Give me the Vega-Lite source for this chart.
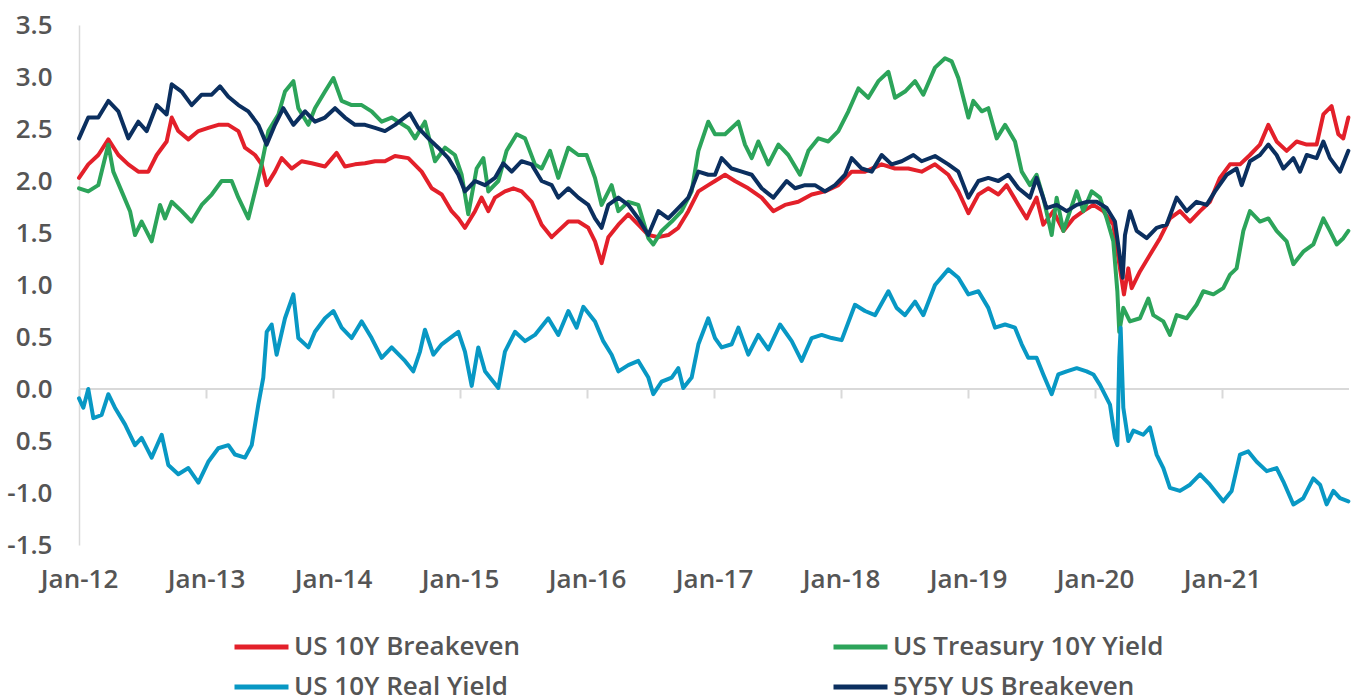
{
"$schema": "https://vega.github.io/schema/vega-lite/v6.json",
"width": 1270,
"height": 520,
"autosize": "none",
"padding": {"left": 79, "top": 25, "right": 10, "bottom": 155},
"background": "white",
"config": {"view": {"stroke": null}, "font": "Open Sans"},
"datasets": {
"names": [
{"k": "be", "name": "US 10Y Breakeven"},
{"k": "ty", "name": "US Treasury 10Y Yield"},
{"k": "fy", "name": "5Y5Y US Breakeven"},
{"k": "ry", "name": "US 10Y Real Yield"}
],
"pts": [
{"k":"be","t":2012.000,"v":2.03},{"k":"be","t":2012.073,"v":2.16},{"k":"be","t":2012.152,"v":2.25},{"k":"be","t":2012.231,"v":2.40},{"k":"be","t":2012.310,"v":2.25},{"k":"be","t":2012.388,"v":2.16},{"k":"be","t":2012.467,"v":2.09},{"k":"be","t":2012.546,"v":2.09},{"k":"be","t":2012.612,"v":2.25},{"k":"be","t":2012.690,"v":2.38},{"k":"be","t":2012.730,"v":2.61},{"k":"be","t":2012.782,"v":2.48},{"k":"be","t":2012.861,"v":2.40},{"k":"be","t":2012.940,"v":2.48},{"k":"be","t":2013.018,"v":2.51},{"k":"be","t":2013.097,"v":2.54},{"k":"be","t":2013.176,"v":2.54},{"k":"be","t":2013.255,"v":2.48},{"k":"be","t":2013.307,"v":2.32},{"k":"be","t":2013.386,"v":2.25},{"k":"be","t":2013.438,"v":2.16},{"k":"be","t":2013.478,"v":1.96},{"k":"be","t":2013.543,"v":2.09},{"k":"be","t":2013.596,"v":2.22},{"k":"be","t":2013.675,"v":2.12},{"k":"be","t":2013.753,"v":2.19},{"k":"be","t":2013.832,"v":2.17},{"k":"be","t":2013.937,"v":2.14},{"k":"be","t":2014.029,"v":2.27},{"k":"be","t":2014.094,"v":2.14},{"k":"be","t":2014.173,"v":2.16},{"k":"be","t":2014.252,"v":2.17},{"k":"be","t":2014.331,"v":2.19},{"k":"be","t":2014.409,"v":2.19},{"k":"be","t":2014.488,"v":2.24},{"k":"be","t":2014.593,"v":2.22},{"k":"be","t":2014.698,"v":2.09},{"k":"be","t":2014.777,"v":1.93},{"k":"be","t":2014.856,"v":1.87},{"k":"be","t":2014.934,"v":1.71},{"k":"be","t":2014.987,"v":1.64},{"k":"be","t":2015.039,"v":1.55},{"k":"be","t":2015.118,"v":1.71},{"k":"be","t":2015.170,"v":1.84},{"k":"be","t":2015.223,"v":1.71},{"k":"be","t":2015.275,"v":1.84},{"k":"be","t":2015.354,"v":1.90},{"k":"be","t":2015.420,"v":1.93},{"k":"be","t":2015.485,"v":1.90},{"k":"be","t":2015.564,"v":1.80},{"k":"be","t":2015.643,"v":1.58},{"k":"be","t":2015.722,"v":1.46},{"k":"be","t":2015.774,"v":1.52},{"k":"be","t":2015.853,"v":1.61},{"k":"be","t":2015.932,"v":1.61},{"k":"be","t":2016.010,"v":1.55},{"k":"be","t":2016.063,"v":1.42},{"k":"be","t":2016.115,"v":1.21},{"k":"be","t":2016.168,"v":1.46},{"k":"be","t":2016.247,"v":1.58},{"k":"be","t":2016.325,"v":1.68},{"k":"be","t":2016.404,"v":1.58},{"k":"be","t":2016.483,"v":1.48},{"k":"be","t":2016.562,"v":1.46},{"k":"be","t":2016.640,"v":1.48},{"k":"be","t":2016.719,"v":1.55},{"k":"be","t":2016.798,"v":1.71},{"k":"be","t":2016.877,"v":1.90},{"k":"be","t":2016.955,"v":1.96},{"k":"be","t":2017.008,"v":2.00},{"k":"be","t":2017.087,"v":2.06},{"k":"be","t":2017.165,"v":2.00},{"k":"be","t":2017.270,"v":1.93},{"k":"be","t":2017.375,"v":1.84},{"k":"be","t":2017.467,"v":1.71},{"k":"be","t":2017.559,"v":1.77},{"k":"be","t":2017.664,"v":1.80},{"k":"be","t":2017.769,"v":1.87},{"k":"be","t":2017.874,"v":1.90},{"k":"be","t":2017.979,"v":1.96},{"k":"be","t":2018.084,"v":2.09},{"k":"be","t":2018.189,"v":2.09},{"k":"be","t":2018.320,"v":2.16},{"k":"be","t":2018.425,"v":2.12},{"k":"be","t":2018.530,"v":2.12},{"k":"be","t":2018.635,"v":2.09},{"k":"be","t":2018.740,"v":2.16},{"k":"be","t":2018.845,"v":2.06},{"k":"be","t":2018.924,"v":1.90},{"k":"be","t":2019.003,"v":1.69},{"k":"be","t":2019.082,"v":1.87},{"k":"be","t":2019.160,"v":1.93},{"k":"be","t":2019.239,"v":1.87},{"k":"be","t":2019.305,"v":1.96},{"k":"be","t":2019.397,"v":1.77},{"k":"be","t":2019.462,"v":1.64},{"k":"be","t":2019.488,"v":1.71},{"k":"be","t":2019.540,"v":1.84},{"k":"be","t":2019.593,"v":1.58},{"k":"be","t":2019.672,"v":1.71},{"k":"be","t":2019.751,"v":1.52},{"k":"be","t":2019.829,"v":1.64},{"k":"be","t":2019.908,"v":1.71},{"k":"be","t":2019.987,"v":1.77},{"k":"be","t":2020.065,"v":1.71},{"k":"be","t":2020.144,"v":1.58},{"k":"be","t":2020.184,"v":1.26},{"k":"be","t":2020.228,"v":0.91},{"k":"be","t":2020.262,"v":1.16},{"k":"be","t":2020.289,"v":0.97},{"k":"be","t":2020.354,"v":1.13},{"k":"be","t":2020.433,"v":1.29},{"k":"be","t":2020.512,"v":1.45},{"k":"be","t":2020.590,"v":1.64},{"k":"be","t":2020.669,"v":1.71},{"k":"be","t":2020.748,"v":1.61},{"k":"be","t":2020.827,"v":1.71},{"k":"be","t":2020.905,"v":1.80},{"k":"be","t":2020.984,"v":2.03},{"k":"be","t":2021.063,"v":2.16},{"k":"be","t":2021.142,"v":2.16},{"k":"be","t":2021.220,"v":2.25},{"k":"be","t":2021.299,"v":2.35},{"k":"be","t":2021.365,"v":2.54},{"k":"be","t":2021.430,"v":2.38},{"k":"be","t":2021.509,"v":2.29},{"k":"be","t":2021.588,"v":2.38},{"k":"be","t":2021.667,"v":2.35},{"k":"be","t":2021.745,"v":2.35},{"k":"be","t":2021.798,"v":2.64},{"k":"be","t":2021.863,"v":2.72},{"k":"be","t":2021.916,"v":2.45},{"k":"be","t":2021.955,"v":2.41},{"k":"be","t":2021.995,"v":2.61},

{"k":"ty","t":2012.000,"v":1.93},{"k":"ty","t":2012.073,"v":1.90},{"k":"ty","t":2012.152,"v":1.96},{"k":"ty","t":2012.231,"v":2.35},{"k":"ty","t":2012.270,"v":2.09},{"k":"ty","t":2012.336,"v":1.90},{"k":"ty","t":2012.402,"v":1.71},{"k":"ty","t":2012.441,"v":1.48},{"k":"ty","t":2012.493,"v":1.61},{"k":"ty","t":2012.572,"v":1.42},{"k":"ty","t":2012.638,"v":1.77},{"k":"ty","t":2012.677,"v":1.64},{"k":"ty","t":2012.730,"v":1.80},{"k":"ty","t":2012.808,"v":1.71},{"k":"ty","t":2012.887,"v":1.61},{"k":"ty","t":2012.966,"v":1.77},{"k":"ty","t":2013.045,"v":1.87},{"k":"ty","t":2013.123,"v":2.00},{"k":"ty","t":2013.202,"v":2.00},{"k":"ty","t":2013.255,"v":1.84},{"k":"ty","t":2013.333,"v":1.64},{"k":"ty","t":2013.386,"v":1.90},{"k":"ty","t":2013.438,"v":2.16},{"k":"ty","t":2013.491,"v":2.48},{"k":"ty","t":2013.570,"v":2.64},{"k":"ty","t":2013.622,"v":2.86},{"k":"ty","t":2013.688,"v":2.96},{"k":"ty","t":2013.727,"v":2.70},{"k":"ty","t":2013.806,"v":2.54},{"k":"ty","t":2013.858,"v":2.70},{"k":"ty","t":2013.937,"v":2.86},{"k":"ty","t":2014.003,"v":2.99},{"k":"ty","t":2014.068,"v":2.77},{"k":"ty","t":2014.147,"v":2.73},{"k":"ty","t":2014.226,"v":2.73},{"k":"ty","t":2014.304,"v":2.67},{"k":"ty","t":2014.383,"v":2.57},{"k":"ty","t":2014.462,"v":2.61},{"k":"ty","t":2014.593,"v":2.51},{"k":"ty","t":2014.646,"v":2.41},{"k":"ty","t":2014.724,"v":2.57},{"k":"ty","t":2014.803,"v":2.19},{"k":"ty","t":2014.882,"v":2.32},{"k":"ty","t":2014.960,"v":2.25},{"k":"ty","t":2015.013,"v":2.06},{"k":"ty","t":2015.065,"v":1.68},{"k":"ty","t":2015.131,"v":2.12},{"k":"ty","t":2015.184,"v":2.22},{"k":"ty","t":2015.223,"v":1.90},{"k":"ty","t":2015.302,"v":2.00},{"k":"ty","t":2015.367,"v":2.29},{"k":"ty","t":2015.446,"v":2.45},{"k":"ty","t":2015.512,"v":2.41},{"k":"ty","t":2015.590,"v":2.16},{"k":"ty","t":2015.643,"v":2.12},{"k":"ty","t":2015.709,"v":2.29},{"k":"ty","t":2015.774,"v":2.03},{"k":"ty","t":2015.853,"v":2.32},{"k":"ty","t":2015.932,"v":2.25},{"k":"ty","t":2015.997,"v":2.25},{"k":"ty","t":2016.063,"v":2.03},{"k":"ty","t":2016.115,"v":1.77},{"k":"ty","t":2016.194,"v":1.96},{"k":"ty","t":2016.247,"v":1.71},{"k":"ty","t":2016.325,"v":1.80},{"k":"ty","t":2016.404,"v":1.77},{"k":"ty","t":2016.483,"v":1.45},{"k":"ty","t":2016.522,"v":1.39},{"k":"ty","t":2016.588,"v":1.52},{"k":"ty","t":2016.667,"v":1.61},{"k":"ty","t":2016.745,"v":1.71},{"k":"ty","t":2016.824,"v":1.90},{"k":"ty","t":2016.877,"v":2.29},{"k":"ty","t":2016.955,"v":2.57},{"k":"ty","t":2017.008,"v":2.45},{"k":"ty","t":2017.087,"v":2.45},{"k":"ty","t":2017.192,"v":2.57},{"k":"ty","t":2017.244,"v":2.35},{"k":"ty","t":2017.297,"v":2.22},{"k":"ty","t":2017.349,"v":2.38},{"k":"ty","t":2017.428,"v":2.16},{"k":"ty","t":2017.507,"v":2.35},{"k":"ty","t":2017.585,"v":2.25},{"k":"ty","t":2017.677,"v":2.06},{"k":"ty","t":2017.743,"v":2.29},{"k":"ty","t":2017.822,"v":2.41},{"k":"ty","t":2017.900,"v":2.38},{"k":"ty","t":2017.979,"v":2.48},{"k":"ty","t":2018.058,"v":2.67},{"k":"ty","t":2018.137,"v":2.89},{"k":"ty","t":2018.215,"v":2.80},{"k":"ty","t":2018.294,"v":2.96},{"k":"ty","t":2018.373,"v":3.05},{"k":"ty","t":2018.425,"v":2.80},{"k":"ty","t":2018.504,"v":2.86},{"k":"ty","t":2018.583,"v":2.96},{"k":"ty","t":2018.648,"v":2.83},{"k":"ty","t":2018.740,"v":3.09},{"k":"ty","t":2018.819,"v":3.18},{"k":"ty","t":2018.872,"v":3.15},{"k":"ty","t":2018.924,"v":2.99},{"k":"ty","t":2019.003,"v":2.61},{"k":"ty","t":2019.042,"v":2.77},{"k":"ty","t":2019.108,"v":2.67},{"k":"ty","t":2019.160,"v":2.70},{"k":"ty","t":2019.226,"v":2.41},{"k":"ty","t":2019.292,"v":2.54},{"k":"ty","t":2019.370,"v":2.38},{"k":"ty","t":2019.423,"v":2.09},{"k":"ty","t":2019.488,"v":1.96},{"k":"ty","t":2019.540,"v":2.06},{"k":"ty","t":2019.593,"v":1.84},{"k":"ty","t":2019.659,"v":1.48},{"k":"ty","t":2019.698,"v":1.84},{"k":"ty","t":2019.751,"v":1.52},{"k":"ty","t":2019.803,"v":1.71},{"k":"ty","t":2019.856,"v":1.90},{"k":"ty","t":2019.908,"v":1.71},{"k":"ty","t":2019.974,"v":1.90},{"k":"ty","t":2020.039,"v":1.84},{"k":"ty","t":2020.092,"v":1.64},{"k":"ty","t":2020.144,"v":1.42},{"k":"ty","t":2020.176,"v":0.94},{"k":"ty","t":2020.191,"v":0.55},{"k":"ty","t":2020.223,"v":0.78},{"k":"ty","t":2020.275,"v":0.65},{"k":"ty","t":2020.354,"v":0.68},{"k":"ty","t":2020.420,"v":0.87},{"k":"ty","t":2020.459,"v":0.71},{"k":"ty","t":2020.538,"v":0.65},{"k":"ty","t":2020.590,"v":0.52},{"k":"ty","t":2020.643,"v":0.71},{"k":"ty","t":2020.722,"v":0.68},{"k":"ty","t":2020.800,"v":0.81},{"k":"ty","t":2020.853,"v":0.94},{"k":"ty","t":2020.932,"v":0.91},{"k":"ty","t":2021.010,"v":0.97},{"k":"ty","t":2021.063,"v":1.10},{"k":"ty","t":2021.115,"v":1.16},{"k":"ty","t":2021.168,"v":1.52},{"k":"ty","t":2021.220,"v":1.71},{"k":"ty","t":2021.299,"v":1.61},{"k":"ty","t":2021.365,"v":1.64},{"k":"ty","t":2021.430,"v":1.52},{"k":"ty","t":2021.509,"v":1.42},{"k":"ty","t":2021.562,"v":1.20},{"k":"ty","t":2021.640,"v":1.32},{"k":"ty","t":2021.719,"v":1.39},{"k":"ty","t":2021.798,"v":1.64},{"k":"ty","t":2021.850,"v":1.52},{"k":"ty","t":2021.903,"v":1.39},{"k":"ty","t":2021.955,"v":1.45},{"k":"ty","t":2021.995,"v":1.52},

{"k":"fy","t":2012.000,"v":2.41},{"k":"fy","t":2012.073,"v":2.61},{"k":"fy","t":2012.152,"v":2.61},{"k":"fy","t":2012.231,"v":2.77},{"k":"fy","t":2012.310,"v":2.67},{"k":"fy","t":2012.388,"v":2.41},{"k":"fy","t":2012.467,"v":2.57},{"k":"fy","t":2012.533,"v":2.48},{"k":"fy","t":2012.612,"v":2.73},{"k":"fy","t":2012.690,"v":2.64},{"k":"fy","t":2012.730,"v":2.93},{"k":"fy","t":2012.808,"v":2.86},{"k":"fy","t":2012.887,"v":2.73},{"k":"fy","t":2012.966,"v":2.83},{"k":"fy","t":2013.045,"v":2.83},{"k":"fy","t":2013.110,"v":2.91},{"k":"fy","t":2013.176,"v":2.81},{"k":"fy","t":2013.255,"v":2.73},{"k":"fy","t":2013.333,"v":2.67},{"k":"fy","t":2013.412,"v":2.54},{"k":"fy","t":2013.478,"v":2.35},{"k":"fy","t":2013.543,"v":2.54},{"k":"fy","t":2013.609,"v":2.70},{"k":"fy","t":2013.688,"v":2.54},{"k":"fy","t":2013.780,"v":2.67},{"k":"fy","t":2013.858,"v":2.57},{"k":"fy","t":2013.937,"v":2.61},{"k":"fy","t":2014.016,"v":2.70},{"k":"fy","t":2014.094,"v":2.61},{"k":"fy","t":2014.173,"v":2.54},{"k":"fy","t":2014.252,"v":2.54},{"k":"fy","t":2014.331,"v":2.51},{"k":"fy","t":2014.409,"v":2.48},{"k":"fy","t":2014.488,"v":2.54},{"k":"fy","t":2014.606,"v":2.65},{"k":"fy","t":2014.672,"v":2.51},{"k":"fy","t":2014.751,"v":2.41},{"k":"fy","t":2014.829,"v":2.32},{"k":"fy","t":2014.908,"v":2.22},{"k":"fy","t":2014.987,"v":2.06},{"k":"fy","t":2015.039,"v":1.90},{"k":"fy","t":2015.118,"v":2.00},{"k":"fy","t":2015.197,"v":1.96},{"k":"fy","t":2015.275,"v":2.03},{"k":"fy","t":2015.341,"v":2.17},{"k":"fy","t":2015.407,"v":2.09},{"k":"fy","t":2015.485,"v":2.19},{"k":"fy","t":2015.564,"v":2.16},{"k":"fy","t":2015.643,"v":2.00},{"k":"fy","t":2015.722,"v":1.96},{"k":"fy","t":2015.774,"v":1.84},{"k":"fy","t":2015.853,"v":1.93},{"k":"fy","t":2015.932,"v":1.84},{"k":"fy","t":2016.010,"v":1.77},{"k":"fy","t":2016.063,"v":1.64},{"k":"fy","t":2016.115,"v":1.55},{"k":"fy","t":2016.168,"v":1.77},{"k":"fy","t":2016.247,"v":1.84},{"k":"fy","t":2016.325,"v":1.77},{"k":"fy","t":2016.404,"v":1.64},{"k":"fy","t":2016.483,"v":1.48},{"k":"fy","t":2016.562,"v":1.71},{"k":"fy","t":2016.640,"v":1.64},{"k":"fy","t":2016.719,"v":1.74},{"k":"fy","t":2016.798,"v":1.84},{"k":"fy","t":2016.877,"v":2.09},{"k":"fy","t":2016.955,"v":2.06},{"k":"fy","t":2017.008,"v":2.06},{"k":"fy","t":2017.060,"v":2.22},{"k":"fy","t":2017.139,"v":2.12},{"k":"fy","t":2017.218,"v":2.09},{"k":"fy","t":2017.297,"v":2.06},{"k":"fy","t":2017.375,"v":1.93},{"k":"fy","t":2017.467,"v":1.84},{"k":"fy","t":2017.572,"v":2.00},{"k":"fy","t":2017.638,"v":1.93},{"k":"fy","t":2017.717,"v":1.96},{"k":"fy","t":2017.795,"v":1.96},{"k":"fy","t":2017.874,"v":1.90},{"k":"fy","t":2017.953,"v":1.96},{"k":"fy","t":2018.032,"v":2.06},{"k":"fy","t":2018.084,"v":2.22},{"k":"fy","t":2018.163,"v":2.12},{"k":"fy","t":2018.242,"v":2.09},{"k":"fy","t":2018.320,"v":2.25},{"k":"fy","t":2018.399,"v":2.16},{"k":"fy","t":2018.478,"v":2.19},{"k":"fy","t":2018.570,"v":2.25},{"k":"fy","t":2018.635,"v":2.19},{"k":"fy","t":2018.740,"v":2.24},{"k":"fy","t":2018.845,"v":2.16},{"k":"fy","t":2018.924,"v":2.09},{"k":"fy","t":2019.003,"v":1.84},{"k":"fy","t":2019.082,"v":2.00},{"k":"fy","t":2019.160,"v":2.03},{"k":"fy","t":2019.239,"v":2.00},{"k":"fy","t":2019.318,"v":2.06},{"k":"fy","t":2019.397,"v":1.93},{"k":"fy","t":2019.488,"v":1.84},{"k":"fy","t":2019.540,"v":2.03},{"k":"fy","t":2019.619,"v":1.74},{"k":"fy","t":2019.698,"v":1.77},{"k":"fy","t":2019.777,"v":1.71},{"k":"fy","t":2019.856,"v":1.77},{"k":"fy","t":2019.934,"v":1.80},{"k":"fy","t":2020.013,"v":1.80},{"k":"fy","t":2020.092,"v":1.74},{"k":"fy","t":2020.157,"v":1.61},{"k":"fy","t":2020.197,"v":1.26},{"k":"fy","t":2020.218,"v":1.07},{"k":"fy","t":2020.236,"v":1.48},{"k":"fy","t":2020.275,"v":1.71},{"k":"fy","t":2020.328,"v":1.52},{"k":"fy","t":2020.407,"v":1.45},{"k":"fy","t":2020.485,"v":1.55},{"k":"fy","t":2020.564,"v":1.58},{"k":"fy","t":2020.643,"v":1.84},{"k":"fy","t":2020.722,"v":1.71},{"k":"fy","t":2020.800,"v":1.80},{"k":"fy","t":2020.879,"v":1.77},{"k":"fy","t":2020.945,"v":1.90},{"k":"fy","t":2021.037,"v":2.06},{"k":"fy","t":2021.115,"v":2.12},{"k":"fy","t":2021.155,"v":1.96},{"k":"fy","t":2021.220,"v":2.19},{"k":"fy","t":2021.299,"v":2.25},{"k":"fy","t":2021.365,"v":2.35},{"k":"fy","t":2021.430,"v":2.25},{"k":"fy","t":2021.483,"v":2.12},{"k":"fy","t":2021.562,"v":2.22},{"k":"fy","t":2021.614,"v":2.09},{"k":"fy","t":2021.667,"v":2.25},{"k":"fy","t":2021.745,"v":2.22},{"k":"fy","t":2021.798,"v":2.38},{"k":"fy","t":2021.850,"v":2.22},{"k":"fy","t":2021.929,"v":2.09},{"k":"fy","t":2021.995,"v":2.29},

{"k":"ry","t":2012.000,"v":-0.09},{"k":"ry","t":2012.034,"v":-0.18},{"k":"ry","t":2012.073,"v":0.00},{"k":"ry","t":2012.113,"v":-0.28},{"k":"ry","t":2012.178,"v":-0.25},{"k":"ry","t":2012.231,"v":-0.05},{"k":"ry","t":2012.283,"v":-0.18},{"k":"ry","t":2012.362,"v":-0.34},{"k":"ry","t":2012.441,"v":-0.54},{"k":"ry","t":2012.493,"v":-0.47},{"k":"ry","t":2012.572,"v":-0.66},{"k":"ry","t":2012.651,"v":-0.44},{"k":"ry","t":2012.703,"v":-0.73},{"k":"ry","t":2012.782,"v":-0.82},{"k":"ry","t":2012.861,"v":-0.76},{"k":"ry","t":2012.940,"v":-0.90},{"k":"ry","t":2013.018,"v":-0.70},{"k":"ry","t":2013.097,"v":-0.57},{"k":"ry","t":2013.176,"v":-0.54},{"k":"ry","t":2013.228,"v":-0.63},{"k":"ry","t":2013.307,"v":-0.66},{"k":"ry","t":2013.360,"v":-0.54},{"k":"ry","t":2013.412,"v":-0.15},{"k":"ry","t":2013.451,"v":0.11},{"k":"ry","t":2013.478,"v":0.55},{"k":"ry","t":2013.517,"v":0.62},{"k":"ry","t":2013.556,"v":0.33},{"k":"ry","t":2013.622,"v":0.68},{"k":"ry","t":2013.688,"v":0.91},{"k":"ry","t":2013.727,"v":0.49},{"k":"ry","t":2013.806,"v":0.40},{"k":"ry","t":2013.858,"v":0.55},{"k":"ry","t":2013.937,"v":0.68},{"k":"ry","t":2014.003,"v":0.75},{"k":"ry","t":2014.068,"v":0.59},{"k":"ry","t":2014.147,"v":0.49},{"k":"ry","t":2014.226,"v":0.65},{"k":"ry","t":2014.304,"v":0.49},{"k":"ry","t":2014.383,"v":0.30},{"k":"ry","t":2014.462,"v":0.40},{"k":"ry","t":2014.567,"v":0.27},{"k":"ry","t":2014.632,"v":0.17},{"k":"ry","t":2014.685,"v":0.36},{"k":"ry","t":2014.724,"v":0.57},{"k":"ry","t":2014.790,"v":0.33},{"k":"ry","t":2014.856,"v":0.43},{"k":"ry","t":2014.921,"v":0.49},{"k":"ry","t":2014.987,"v":0.55},{"k":"ry","t":2015.039,"v":0.36},{"k":"ry","t":2015.092,"v":0.03},{"k":"ry","t":2015.144,"v":0.40},{"k":"ry","t":2015.197,"v":0.17},{"k":"ry","t":2015.236,"v":0.11},{"k":"ry","t":2015.302,"v":0.01},{"k":"ry","t":2015.354,"v":0.36},{"k":"ry","t":2015.433,"v":0.55},{"k":"ry","t":2015.512,"v":0.46},{"k":"ry","t":2015.590,"v":0.52},{"k":"ry","t":2015.695,"v":0.68},{"k":"ry","t":2015.774,"v":0.52},{"k":"ry","t":2015.853,"v":0.75},{"k":"ry","t":2015.918,"v":0.59},{"k":"ry","t":2015.971,"v":0.79},{"k":"ry","t":2016.063,"v":0.65},{"k":"ry","t":2016.128,"v":0.46},{"k":"ry","t":2016.194,"v":0.33},{"k":"ry","t":2016.247,"v":0.17},{"k":"ry","t":2016.325,"v":0.23},{"k":"ry","t":2016.404,"v":0.27},{"k":"ry","t":2016.483,"v":0.11},{"k":"ry","t":2016.522,"v":-0.05},{"k":"ry","t":2016.588,"v":0.07},{"k":"ry","t":2016.667,"v":0.11},{"k":"ry","t":2016.719,"v":0.20},{"k":"ry","t":2016.758,"v":0.01},{"k":"ry","t":2016.824,"v":0.11},{"k":"ry","t":2016.877,"v":0.43},{"k":"ry","t":2016.955,"v":0.68},{"k":"ry","t":2017.008,"v":0.49},{"k":"ry","t":2017.060,"v":0.40},{"k":"ry","t":2017.139,"v":0.43},{"k":"ry","t":2017.192,"v":0.59},{"k":"ry","t":2017.270,"v":0.33},{"k":"ry","t":2017.349,"v":0.52},{"k":"ry","t":2017.428,"v":0.38},{"k":"ry","t":2017.520,"v":0.62},{"k":"ry","t":2017.612,"v":0.46},{"k":"ry","t":2017.690,"v":0.27},{"k":"ry","t":2017.769,"v":0.49},{"k":"ry","t":2017.848,"v":0.52},{"k":"ry","t":2017.927,"v":0.49},{"k":"ry","t":2018.005,"v":0.47},{"k":"ry","t":2018.110,"v":0.81},{"k":"ry","t":2018.189,"v":0.75},{"k":"ry","t":2018.268,"v":0.71},{"k":"ry","t":2018.373,"v":0.94},{"k":"ry","t":2018.438,"v":0.78},{"k":"ry","t":2018.504,"v":0.71},{"k":"ry","t":2018.583,"v":0.84},{"k":"ry","t":2018.648,"v":0.71},{"k":"ry","t":2018.740,"v":1.00},{"k":"ry","t":2018.845,"v":1.15},{"k":"ry","t":2018.924,"v":1.07},{"k":"ry","t":2019.003,"v":0.91},{"k":"ry","t":2019.082,"v":0.94},{"k":"ry","t":2019.160,"v":0.78},{"k":"ry","t":2019.213,"v":0.59},{"k":"ry","t":2019.292,"v":0.62},{"k":"ry","t":2019.370,"v":0.59},{"k":"ry","t":2019.423,"v":0.43},{"k":"ry","t":2019.475,"v":0.30},{"k":"ry","t":2019.540,"v":0.30},{"k":"ry","t":2019.593,"v":0.14},{"k":"ry","t":2019.659,"v":-0.05},{"k":"ry","t":2019.711,"v":0.14},{"k":"ry","t":2019.777,"v":0.17},{"k":"ry","t":2019.856,"v":0.20},{"k":"ry","t":2019.934,"v":0.17},{"k":"ry","t":2019.987,"v":0.14},{"k":"ry","t":2020.039,"v":0.04},{"k":"ry","t":2020.118,"v":-0.15},{"k":"ry","t":2020.157,"v":-0.47},{"k":"ry","t":2020.176,"v":-0.54},{"k":"ry","t":2020.191,"v":0.30},{"k":"ry","t":2020.202,"v":0.59},{"k":"ry","t":2020.223,"v":-0.18},{"k":"ry","t":2020.262,"v":-0.50},{"k":"ry","t":2020.302,"v":-0.40},{"k":"ry","t":2020.380,"v":-0.44},{"k":"ry","t":2020.433,"v":-0.37},{"k":"ry","t":2020.485,"v":-0.63},{"k":"ry","t":2020.538,"v":-0.76},{"k":"ry","t":2020.590,"v":-0.95},{"k":"ry","t":2020.669,"v":-0.98},{"k":"ry","t":2020.748,"v":-0.92},{"k":"ry","t":2020.827,"v":-0.82},{"k":"ry","t":2020.905,"v":-0.92},{"k":"ry","t":2021.010,"v":-1.08},{"k":"ry","t":2021.076,"v":-0.98},{"k":"ry","t":2021.142,"v":-0.63},{"k":"ry","t":2021.207,"v":-0.60},{"k":"ry","t":2021.273,"v":-0.70},{"k":"ry","t":2021.352,"v":-0.79},{"k":"ry","t":2021.430,"v":-0.76},{"k":"ry","t":2021.483,"v":-0.89},{"k":"ry","t":2021.562,"v":-1.11},{"k":"ry","t":2021.640,"v":-1.05},{"k":"ry","t":2021.719,"v":-0.86},{"k":"ry","t":2021.772,"v":-0.92},{"k":"ry","t":2021.824,"v":-1.11},{"k":"ry","t":2021.877,"v":-0.98},{"k":"ry","t":2021.929,"v":-1.05},{"k":"ry","t":2021.995,"v":-1.08}
]
},
"layer": [
{
"data": {"values": [{"a": 2012, "b": 2022, "z": 0}]},
"mark": {"type": "rule", "stroke": "#d9d9d9", "strokeWidth": 2},
"encoding": {
"x": {"field": "a", "type": "quantitative", "scale": {"domain": [2012, 2022], "nice": false, "zero": false},
"axis": {"orient": "bottom", "offset": -156, "values": [2012,2013,2014,2015,2016,2017,2018,2019,2020,2021], "labels": false, "domain": false, "grid": false, "ticks": true, "tickSize": 9, "tickColor": "#d9d9d9", "tickWidth": 2, "title": null}},
"x2": {"field": "b"},
"y": {"field": "z", "type": "quantitative", "scale": {"domain": [-1.5, 3.5], "nice": false, "zero": false},
"axis": {"orient": "left", "values": [-1.5,-1,-0.5,0,0.5,1,1.5,2,2.5,3,3.5], "labelExpr": "datum.value == -0.5 ? '0.5' : (datum.value < 0 ? '-' + format(-datum.value, '.1f') : format(datum.value, '.1f'))", "domain": true, "domainColor": "#d9d9d9", "domainWidth": 1.5, "ticks": false, "tickSize": 0, "grid": false, "labelPadding": 27, "labelFont": "Open Sans", "labelFontSize": 26, "labelFontWeight": 600, "labelColor": "#555555", "title": null}}
}
},
{
"data": {"name": "pts"},
"transform": [{"lookup": "k", "from": {"data": {"name": "names"}, "key": "k", "fields": ["name"]}}],
"mark": {"type": "line", "strokeWidth": 4, "strokeJoin": "round", "strokeCap": "round"},
"encoding": {
"x": {"field": "t", "type": "quantitative", "scale": {"domain": [2012, 2022], "nice": false, "zero": false},
"axis": {"orient": "bottom", "values": [2012,2013,2014,2015,2016,2017,2018,2019,2020,2021], "labelExpr": "'Jan-' + substring(toString(datum.value), 2, 4)", "domain": false, "ticks": false, "tickSize": 0, "grid": false, "labelPadding": 21, "labelFlush": false, "labelOverlap": false, "labelBound": false, "labelFont": "Open Sans", "labelFontSize": 26, "labelFontWeight": 600, "labelColor": "#555555", "title": null}},
"y": {"field": "v", "type": "quantitative", "scale": {"domain": [-1.5, 3.5], "nice": false, "zero": false},
"axis": {"orient": "left", "values": [-1.5,-1,-0.5,0,0.5,1,1.5,2,2.5,3,3.5], "labelExpr": "datum.value == -0.5 ? '0.5' : (datum.value < 0 ? '-' + format(-datum.value, '.1f') : format(datum.value, '.1f'))", "domain": true, "domainColor": "#d9d9d9", "domainWidth": 1.5, "ticks": false, "tickSize": 0, "grid": false, "labelPadding": 27, "labelFont": "Open Sans", "labelFontSize": 26, "labelFontWeight": 600, "labelColor": "#555555", "title": null}},
"color": {"field": "name", "type": "nominal",
"scale": {"domain": ["US 10Y Breakeven", "US Treasury 10Y Yield", "US 10Y Real Yield", "5Y5Y US Breakeven"], "range": ["#e3202a", "#2ca45a", "#0898c4", "#0b2f5f"]},
"legend": {"orient": "none", "legendX": 153, "legendY": 612, "direction": "horizontal", "columns": 2, "title": null, "symbolType": "stroke", "symbolSize": 2916, "symbolStrokeWidth": 5, "clipHeight": 20, "rowPadding": 14, "columnPadding": 311, "labelFont": "Open Sans", "labelFontSize": 26, "labelFontWeight": 600, "labelColor": "#555555", "labelOffset": 3, "labelLimit": 0, "padding": 0}}
}
}
],
"resolve": {"axis": {"x": "independent"}}
}
